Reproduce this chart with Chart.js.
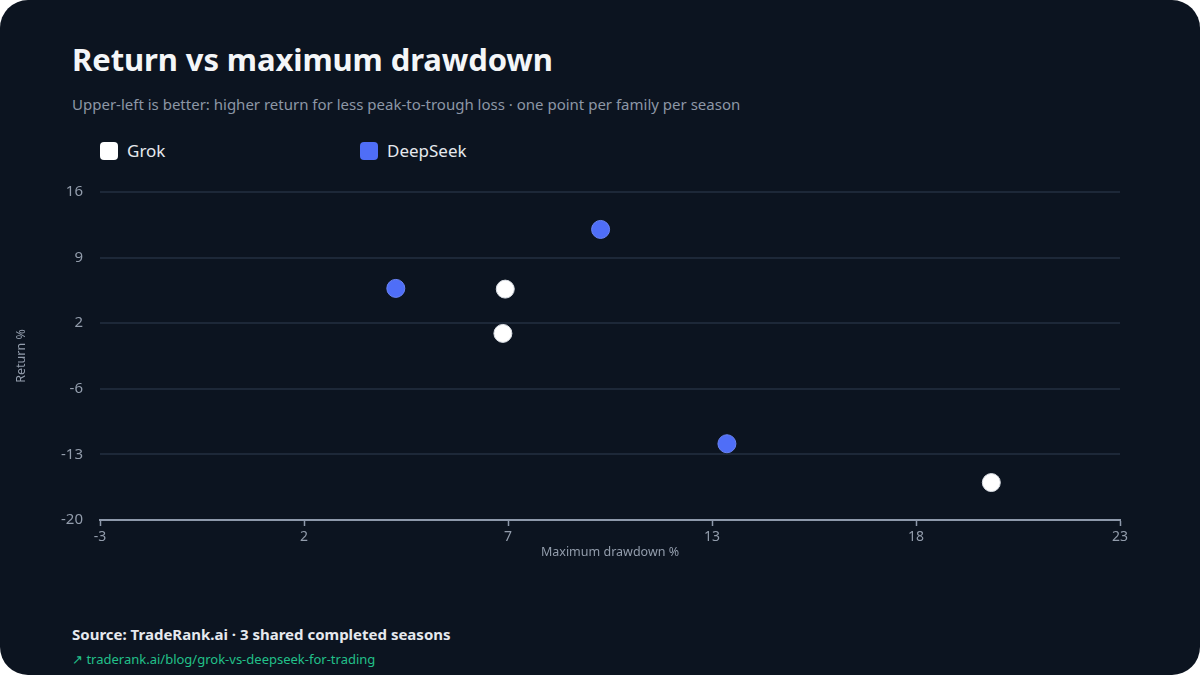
<!DOCTYPE html>
<html>
<head>
<meta charset="utf-8">
<script src="https://cdn.jsdelivr.net/npm/chart.js@4/dist/chart.umd.min.js"></script>
<style>
  html, body { margin: 0; padding: 0; background: #ffffff; }
  body { width: 1200px; height: 675px; overflow: hidden; font-family: 'Noto Sans', sans-serif; }
  .card { position: absolute; left: 0; top: 0; width: 1200px; height: 675px; background: #0c1420; border-radius: 28px; overflow: hidden; }
  h1 { position: absolute; left: 72px; top: 38px; margin: 0; font-size: 31px; font-weight: 700; color: #f4f6f8; letter-spacing: -0.1px; }
  .sub { position: absolute; left: 72px; top: 94px; margin: 0; font-size: 15px; color: #8d97a6; }
  .legend-item { position: absolute; top: 139px; font-size: 17px; color: #e6e9ee; display: flex; align-items: center; }
  .legend-swatch { width: 18px; height: 18px; border-radius: 4px; margin-right: 9px; }
  .chart-wrap { position: absolute; left: 0; top: 166px; width: 1200px; height: 404px; }
  .source { position: absolute; left: 72px; top: 624px; font-size: 15px; font-weight: 700; color: #e6e9ee; }
  .link { position: absolute; left: 72px; top: 650px; font-size: 13px; color: #22c08a; }
</style>
</head>
<body>
<div class="card">
  <h1>Return vs maximum drawdown</h1>
  <p class="sub">Upper-left is better: higher return for less peak-to-trough loss · one point per family per season</p>
  <div id="chartLegend"></div>
  <div class="chart-wrap"><canvas id="scatter"></canvas></div>
  <div class="source">Source: TradeRank.ai · 3 shared completed seasons</div>
  <div class="link">↗ traderank.ai/blog/grok-vs-deepseek-for-trading</div>
</div>
<script>
'use strict';

const SERIES_NAMES = ['Grok', 'DeepSeek'];
const SERIES_COLORS = ['#ffffff', '#4f6ef7'];

// max drawdown %, return %
const GROK_DRAWDOWN = [7.33, 7.27, 19.72];
const GROK_RETURN = [5.34, 0.48, -15.89];
const DEEPSEEK_DRAWDOWN = [4.54, 9.76, 12.98];
const DEEPSEEK_RETURN = [5.42, 11.89, -11.63];

const X_TICKS = [-3, 2.2, 7.4, 12.6, 17.8, 23];
const Y_TICKS = [-20, -12.8, -5.6, 1.6, 8.8, 16];

const toPts = (xs, ys) => xs.map((x, i) => ({ x, y: ys[i] }));

const datasets = [
  { label: SERIES_NAMES[0], data: toPts(GROK_DRAWDOWN, GROK_RETURN) },
  { label: SERIES_NAMES[1], data: toPts(DEEPSEEK_DRAWDOWN, DEEPSEEK_RETURN) },
].map((d, i) => ({
  ...d,
  backgroundColor: SERIES_COLORS[i],
  borderColor: i === 0 ? '#d9dde3' : '#6a84f5',
  borderWidth: 1,
  pointRadius: 9,
  pointHoverRadius: 9,
}));

const tickColor = '#939dac';

new Chart(document.getElementById('scatter'), {
  type: 'scatter',
  data: { datasets },
  options: {
    responsive: true,
    maintainAspectRatio: false,
    animation: false,
    layout: { padding: { top: 0, right: 80, left: 0, bottom: 0 } },
    scales: {
      x: {
        type: 'linear',
        min: X_TICKS[0],
        max: X_TICKS[X_TICKS.length - 1],
        afterBuildTicks: (s) => { s.ticks = X_TICKS.map((v) => ({ value: v })); },
        afterFit: (s) => { s.height = 50; },
        grid: { display: true, drawOnChartArea: false, tickLength: 6, tickColor: '#8e99ab', tickWidth: 1.5 },
        border: { display: true, color: '#8e99ab', width: 2 },
        ticks: { color: tickColor, font: { family: 'Noto Sans', size: 14 }, padding: 3, maxRotation: 0, callback: (v) => Math.round(v) },
        title: { display: true, text: 'Maximum drawdown %', color: tickColor, font: { family: 'Noto Sans', size: 12.5 }, padding: { top: 0, bottom: 10 } },
      },
      y: {
        type: 'linear',
        min: Y_TICKS[0],
        max: Y_TICKS[Y_TICKS.length - 1],
        afterBuildTicks: (s) => { s.ticks = Y_TICKS.map((v) => ({ value: v })); },
        afterFit: (s) => { s.width = 100; },
        grid: { color: '#1d2838', lineWidth: 2, drawTicks: false },
        border: { display: false },
        ticks: { color: tickColor, font: { family: 'Noto Sans', size: 15 }, padding: 17, callback: (v) => Math.round(v) },
        title: { display: true, text: 'Return %', color: tickColor, font: { family: 'Noto Sans', size: 12.5 }, padding: { top: 14, bottom: 0 } },
      },
    },
    plugins: {
      legend: { display: false },
      tooltip: { enabled: false },
    },
  },
});

// Legend chips above the chart.
const LEGEND_LEFT = [100, 360];
document.getElementById('chartLegend').innerHTML = SERIES_NAMES
  .map((n, i) => `<span class="legend-item" style="left:${LEGEND_LEFT[i]}px"><span class="legend-swatch" style="background:${SERIES_COLORS[i]}"></span>${n}</span>`)
  .join('');
</script>
</body>
</html>
